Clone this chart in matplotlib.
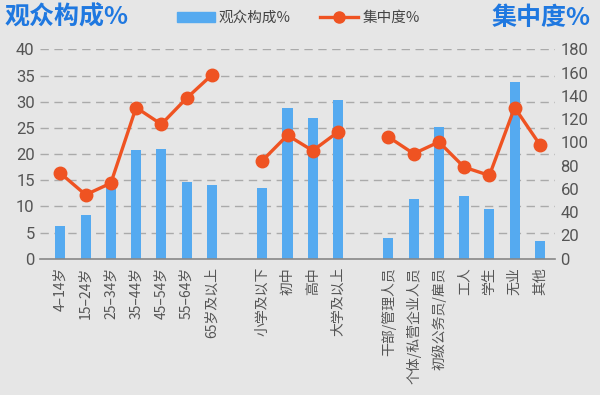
import matplotlib
matplotlib.use("Agg")
import matplotlib.pyplot as plt
from matplotlib.lines import Line2D
from matplotlib.patches import Patch

plt.rcParams['font.family'] = ['Noto Sans CJK SC', 'DejaVu Sans']

categories = ["4–14岁", "15–24岁", "25–34岁", "35–44岁", "45–54岁", "55–64岁", "65岁及以上",
              "小学及以下", "初中", "高中", "大学及以上",
              "干部/管理人员", "个体/私营企业人员", "初级公务员/雇员", "工人", "学生", "无业", "其他"]
group_sizes = [7, 4, 7]
share = [6.2, 8.3, 15.0, 20.7, 20.9, 14.6, 14.1,
         13.5, 28.8, 26.8, 30.3,
         4.0, 11.4, 25.1, 11.9, 9.5, 33.8, 3.4]
concentration = [73.5, 55, 65, 130, 115.6, 138, 158,
                 84.3, 106.2, 92.9, 109,
                 104.7, 90.3, 100.4, 78.7, 71.6, 130, 98.1]

bar_color = "#55aaf0"
line_color = "#ef5322"
bg = "#e6e6e6"
tick_color = "#555555"
title_color = "#1f78e0"

positions = []
start = 0
for g in group_sizes:
    positions.extend(range(start, start + g))
    start += g + 1

fig = plt.figure(figsize=(6, 3.95), dpi=100, facecolor=bg)
ax = fig.add_axes([0.067, 0.345, 0.858, 0.53])
ax.set_facecolor(bg)
ax2 = ax.twinx()

ax.bar(positions, share, width=0.4, color=bar_color, zorder=2)
ax.set_ylim(0, 40)
ax.set_yticks(range(0, 45, 5))
ax2.set_ylim(0, 180)
ax2.set_yticks(range(0, 200, 20))
ax.set_xlim(-0.8, 19.6)

for y in range(5, 45, 5):
    ax.axhline(y, color="#aaaaaa", lw=1.0, ls=(0, (6, 4)), zorder=1)

i = 0
for g in group_sizes:
    ax2.plot(positions[i:i + g], concentration[i:i + g], color=line_color, lw=2.4,
             marker="o", ms=9, zorder=3)
    i += g

ax.set_xticks(positions)
ax.set_xticklabels(categories, rotation=90, fontsize=10, color=tick_color, va="top")
for a in (ax, ax2):
    for s in a.spines.values():
        s.set_visible(False)
    a.tick_params(length=0, colors=tick_color)
    for lab in a.get_yticklabels():
        lab.set_fontfamily(['Roboto', 'DejaVu Sans'])
        lab.set_fontsize(12)
ax.spines['bottom'].set_visible(True)
ax.spines['bottom'].set_color("#888888")
ax.spines['bottom'].set_linewidth(1.2)
ax.tick_params(axis='x', pad=6)
ax.tick_params(axis='y', pad=4)
ax2.tick_params(axis='y', pad=4)

fig.text(0.008, 0.955, "观众构成%", fontsize=18, fontweight="bold", color=title_color, va="center", ha="left")
fig.text(0.985, 0.955, "集中度%", fontsize=18, fontweight="bold", color=title_color, va="center", ha="right")

handles = [Patch(color=bar_color, label="观众构成%"),
           Line2D([0], [0], color=line_color, lw=2.4, marker="o", ms=8, label="集中度%")]
fig.legend(handles=handles, loc="center", bbox_to_anchor=(0.497, 0.955), ncol=2, frameon=False,
           fontsize=10.5, labelcolor="#444444", handlelength=2.6, columnspacing=2.0, handletextpad=0.3)

fig.savefig("out.png", dpi=100, facecolor=bg)
